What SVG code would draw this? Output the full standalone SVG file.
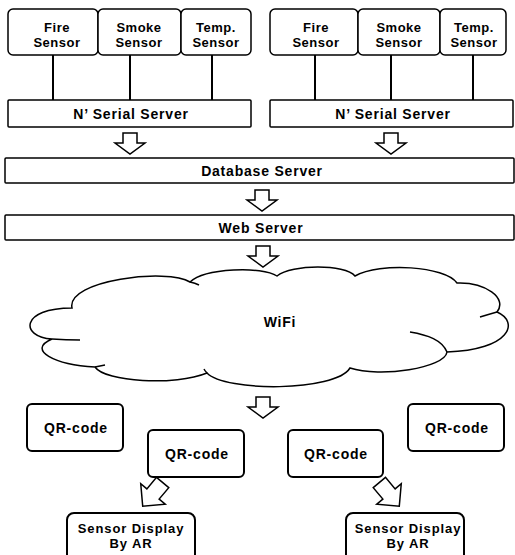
<svg xmlns="http://www.w3.org/2000/svg" width="515" height="555" viewBox="0 0 515 555">
<style>
.box{fill:#fff;stroke:#000;stroke-width:1.5}
.qr{fill:#fff;stroke:#000;stroke-width:2}
.t{font-family:"Liberation Sans",Arial,sans-serif;font-weight:bold;font-size:14px;fill:#000;text-anchor:middle;letter-spacing:0.8px}
.s{font-size:13px;letter-spacing:0.5px}
.d{font-size:13px;letter-spacing:0.9px}
.ln{stroke:#000;stroke-width:2;fill:none}
.arr{fill:#fff;stroke:#000;stroke-width:1.5;stroke-linejoin:miter}
.cl{fill:#fff;stroke:#000;stroke-width:1.5}
.tail{fill:none;stroke:#000;stroke-width:1.5}
</style>
<defs>
<path id="darr" d="M-7,-10 H7 V0 H15 L0,11 L-15,0 H-7 Z"/>
<path id="barr" d="M-8,-15 H8 V0 H16 L0,16 L-16,0 H-8 Z"/>
</defs>
<rect width="515" height="555" fill="#fff"/>

<g id="connectors">
<line class="ln" x1="53" y1="55" x2="53" y2="100"/>
<line class="ln" x1="130" y1="55" x2="130" y2="100"/>
<line class="ln" x1="212" y1="55" x2="212" y2="100"/>
<line class="ln" x1="315" y1="55" x2="315" y2="100"/>
<line class="ln" x1="391" y1="55" x2="391" y2="100"/>
<line class="ln" x1="473" y1="55" x2="473" y2="100"/>
<use href="#darr" class="arr" x="130" y="143"/>
<use href="#darr" class="arr" x="391" y="143"/>
<use href="#darr" class="arr" x="262" y="200"/>
<use href="#darr" class="arr" x="263" y="256"/>
<use href="#darr" class="arr" x="263" y="407"/>
<use href="#barr" class="arr" transform="translate(153,494) rotate(40)"/>
<use href="#barr" class="arr" transform="translate(389,494) rotate(-40)"/>
</g>

<g id="fire1"><rect class="box" x="8" y="9" width="90" height="46" rx="5"/><text class="t s" x="57" y="31.5">Fire</text><text class="t s" x="57" y="46.5">Sensor</text></g>
<g id="smoke1"><rect class="box" x="98" y="9" width="83" height="46" rx="5"/><text class="t s" x="139" y="31.5">Smoke</text><text class="t s" x="139" y="46.5">Sensor</text></g>
<g id="temp1"><rect class="box" x="181" y="9" width="70" height="46" rx="5"/><text class="t s" x="216" y="31.5">Temp.</text><text class="t s" x="216" y="46.5">Sensor</text></g>
<g id="serial1"><rect class="box" x="8" y="100" width="243" height="27" rx="1"/><text class="t" x="131" y="119">N’ Serial Server</text></g>

<g id="fire2"><rect class="box" x="270" y="9" width="88" height="46" rx="5"/><text class="t s" x="316" y="31.5">Fire</text><text class="t s" x="316" y="46.5">Sensor</text></g>
<g id="smoke2"><rect class="box" x="358" y="9" width="82" height="46" rx="5"/><text class="t s" x="399" y="31.5">Smoke</text><text class="t s" x="399" y="46.5">Sensor</text></g>
<g id="temp2"><rect class="box" x="440" y="9" width="66" height="46" rx="5"/><text class="t s" x="474" y="31.5">Temp.</text><text class="t s" x="474" y="46.5">Sensor</text></g>
<g id="serial2"><rect class="box" x="270" y="100" width="243" height="27" rx="1"/><text class="t" x="393" y="119">N’ Serial Server</text></g>

<g id="database"><rect class="box" x="5" y="158" width="509" height="25" rx="1"/><text class="t" x="262" y="175.5">Database Server</text></g>
<g id="web"><rect class="box" x="5" y="215" width="509" height="25" rx="1"/><text class="t" x="261" y="232.5">Web Server</text></g>

<g id="wifi">
<path class="cl" d="M72,308 C66,280 168,268 190,282 C205,268 262,266 277,276 C292,264 345,264 355,276 C380,262 445,266 457,283 C485,282 508,298 497,312 C520,322 510,350 447,352 C445,368 380,378 350,368 C335,392 225,392 207,373 C175,386 105,382 95,367 C55,365 26,350 52,339 C20,337 20,308 72,308 Z"/>
<path class="tail" d="M190,282 Q195,283 199,285"/>
<path class="tail" d="M52,339 Q66,340 80,340"/>
<path class="tail" d="M95,367 Q100,366 105,365"/>
<path class="tail" d="M447,352 C442,340 428,335 410,332"/>
<path class="tail" d="M497,312 Q490,314 480,317"/>
<path class="tail" d="M207,373 Q205,371 204,369"/>
<text class="t" x="280" y="327">WiFi</text>
</g>

<g id="qr1"><rect class="qr" x="27" y="404" width="96" height="47" rx="5"/><text class="t" x="76" y="433">QR-code</text></g>
<g id="qr2"><rect class="qr" x="148" y="430" width="96" height="47" rx="5"/><text class="t" x="197" y="459">QR-code</text></g>
<g id="qr3"><rect class="qr" x="288" y="430" width="95" height="47" rx="5"/><text class="t" x="336" y="459">QR-code</text></g>
<g id="qr4"><rect class="qr" x="408" y="404" width="96" height="47" rx="5"/><text class="t" x="457" y="433">QR-code</text></g>

<g id="ar1"><rect class="qr" x="67" y="513" width="128" height="50" rx="7"/><text class="t d" x="131" y="532.5">Sensor Display</text><text class="t d" x="131" y="547.5">By AR</text></g>
<g id="ar2"><rect class="qr" x="346" y="513" width="118" height="50" rx="7"/><text class="t d" x="408" y="532.5">Sensor Display</text><text class="t d" x="408" y="547.5">By AR</text></g>
</svg>
